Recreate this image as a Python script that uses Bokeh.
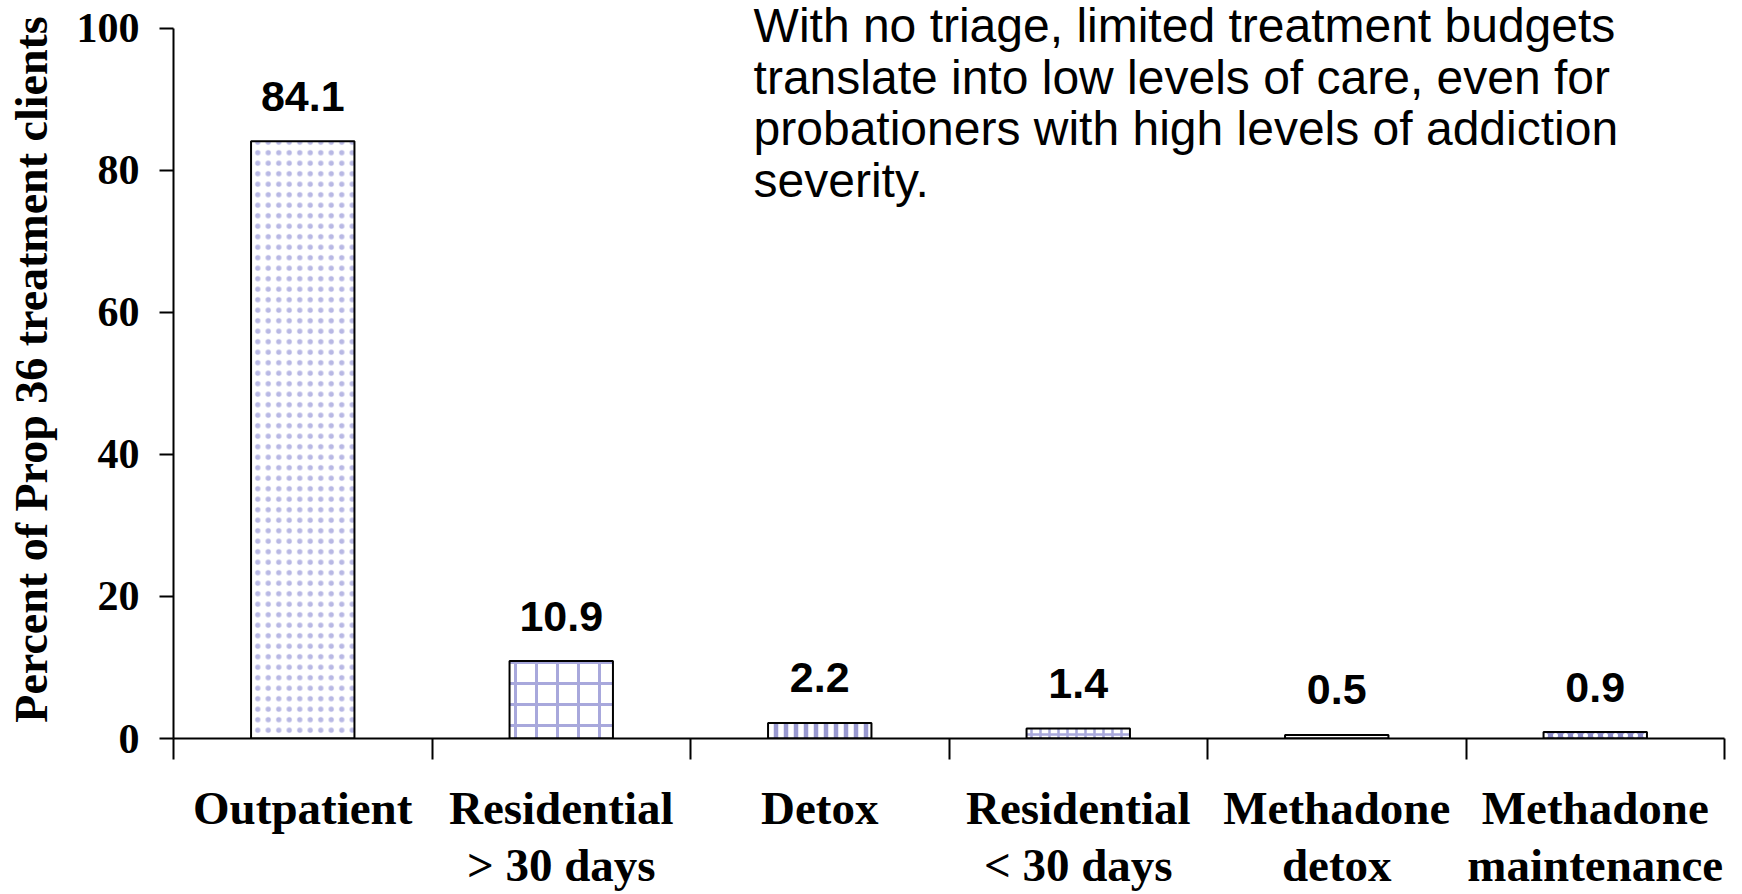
import math
from bokeh.plotting import figure
from bokeh.models import ColumnDataSource, Range1d, FixedTicker, LabelSet, Label
from bokeh.core.properties import value
from bokeh.embed import file_html
from bokeh.resources import INLINE

# ---- data ----
categories = ["Outpatient", "Residential\n> 30 days", "Detox",
              "Residential\n< 30 days", "Methadone\ndetox", "Methadone\nmaintenance"]
values = [84.1, 10.9, 2.2, 1.4, 0.5, 0.9]
value_labels = ["84.1", "10.9", "2.2", "1.4", "0.5", "0.9"]
y_ticks = [0, 20, 40, 60, 80, 100]
y_title = "Percent of Prop 36 treatment clients"
note_text = ("With no triage, limited treatment budgets\n"
             "translate into low levels of care, even for\n"
             "probationers with high levels of addiction\n"
             "severity.")

# ---- styles ----
fills = ["white", "white", "white", "white", "white", "#8c8cc8"]
hatches = ["dot", "cross", "vertical_line", "cross", "horizontal_line", "dot"]
hatch_colors = ["#b8b8e4", "#a8a8dc", "#9898d0", "#a8a8dc", "#b8b8e0", "white"]
hatch_scales = [10.5, 21, 10, 9, 5, 10]
hatch_weights = [1.3, 3, 4.5, 2.5, 1.5, 2]

n = len(categories)
centers = [i + 0.5 for i in range(n)]
bounds = [float(i) for i in range(n + 1)]

src = ColumnDataSource(dict(
    x=centers, top=values, lab=value_labels,
    fill=fills, hatch=hatches, hcol=hatch_colors, hscale=hatch_scales, hw=hatch_weights,
))

W, H = 1742, 894
top_pad_ratio = 739 / 711  # frame reaches above the top tick so the note fits inside

p = figure(width=W, height=H, output_backend="svg", toolbar_location=None,
           x_range=Range1d(0, n), y_range=Range1d(0, 100 * top_pad_ratio),
           min_border_left=173, min_border_right=18, min_border_top=0, min_border_bottom=155)
p.outline_line_color = None
p.grid.visible = False
p.background_fill_color = "white"
p.border_fill_color = "white"

p.vbar(x="x", top="top", width=0.4, bottom=0, source=src,
       fill_color="fill", line_color="black", line_width=2,
       hatch_pattern="hatch", hatch_color="hcol", hatch_scale="hscale", hatch_weight="hw")

# y axis
ya = p.yaxis[0]
ya.ticker = FixedTicker(ticks=y_ticks)
ya.bounds = (0, 100)
ya.axis_line_width = 2
ya.major_tick_line_width = 2
ya.major_tick_out = 14
ya.major_tick_in = 0
ya.minor_tick_out = 0
ya.minor_tick_in = 0
ya.major_label_standoff = 20
ya.major_label_text_font = "Liberation Serif"
ya.major_label_text_font_style = "bold"
ya.major_label_text_font_size = "42px"
ya.major_label_text_color = "black"
ya.axis_label = y_title
ya.axis_label_standoff = 17
ya.axis_label_text_font = "Liberation Serif"
ya.axis_label_text_font_style = "bold"
ya.axis_label_text_font_size = "46px"
ya.axis_label_text_color = "black"

# x axis: labels at category centres, ticks (minor) at category boundaries
xa = p.xaxis[0]
xa.ticker = FixedTicker(ticks=centers, minor_ticks=bounds)
xa.major_label_overrides = {c: cat for c, cat in zip(centers, categories)}
xa.axis_line_width = 2
xa.major_tick_out = 0
xa.major_tick_in = 0
xa.minor_tick_out = 21
xa.minor_tick_in = 0
xa.minor_tick_line_width = 2
xa.minor_tick_line_color = "black"
xa.major_label_standoff = 22
xa.major_label_text_font = "Liberation Serif"
xa.major_label_text_font_style = "bold"
xa.major_label_text_font_size = "47px"
xa.major_label_text_color = "black"
xa.major_label_text_line_height = 1.11

# value labels above bars
p.add_layout(LabelSet(x="x", y="top", text="lab", source=src, y_offset=45,
                      text_align="center", text_baseline="middle",
                      text_font=value("Liberation Sans"), text_font_style="bold",
                      text_font_size="43px", text_color="black"))

# note text
p.add_layout(Label(x=2.244, y=89.5, text=note_text,
                   text_align="left", text_baseline="middle",
                   text_font="Liberation Sans", text_font_size="48px",
                   text_color="black", text_line_height=0.97))

open("out.html", "w").write(file_html(p, INLINE))
